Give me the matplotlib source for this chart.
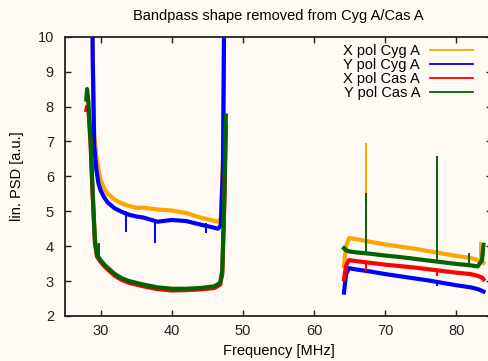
import numpy as np
import matplotlib
matplotlib.use("Agg")
import matplotlib.pyplot as plt
from matplotlib.lines import Line2D

plt.rcParams['font.family'] = ['Liberation Sans', 'DejaVu Sans']

# -----------------------------
# Datos
# -----------------------------

# banda baja, Cyg A
cyg_f1 = [28.7, 28.9, 29.1, 29.4, 29.7, 30.0, 30.5, 31.0, 32.0, 33.0, 34.0,
          35.0, 36.0, 38.0, 40.0, 42.0, 44.0, 45.5, 46.5, 46.9, 47.2, 47.5]
x_cyg1 = [14, 9.5, 7.2, 6.6, 6.2, 5.9, 5.65, 5.5, 5.33, 5.22, 5.15,
          5.1, 5.1, 5.05, 5.02, 4.95, 4.82, 4.75, 4.7, 4.8, 6.5, 14]
y_cyg1 = [14, 9.3, 6.9, 6.2, 5.8, 5.6, 5.4, 5.25, 5.08, 4.98, 4.9,
          4.85, 4.82, 4.7, 4.75, 4.72, 4.62, 4.55, 4.5, 4.6, 6.3, 14]

# banda baja, Cas A
cas_f1 = [28.0, 28.1, 28.3, 28.6, 28.9, 29.2, 29.5, 30.0, 30.5, 31.0, 32.0,
          33.0, 34.0, 36.0, 38.0, 40.0, 42.0, 44.0, 46.0, 46.8, 47.1, 47.4, 47.6]
x_cas1 = [7.9, 8.0, 7.9, 6.9, 5.4, 4.1, 3.7, 3.55, 3.43, 3.33, 3.15,
          3.03, 2.95, 2.85, 2.77, 2.73, 2.74, 2.76, 2.8, 2.9, 3.2, 5.3, 7.43]
y_cas1 = [8.2, 8.5, 8.1, 7.0, 5.5, 4.2, 3.75, 3.6, 3.48, 3.38, 3.2,
          3.08, 3.0, 2.9, 2.82, 2.78, 2.78, 2.8, 2.85, 2.95, 3.3, 5.5, 7.74]

# banda alta (las cuatro series)
f2 = [64.2, 64.5, 64.9, 66.0, 68.0, 70.0, 72.0, 74.0, 76.0, 78.0, 80.0,
      82.0, 83.0, 83.6, 83.8]
x_cyg2 = [3.42, 4.0, 4.23, 4.2, 4.12, 4.05, 3.99, 3.93, 3.86, 3.79, 3.72,
          3.66, 3.6, 3.55, 3.52]
y_cyg2 = [2.67, 3.2, 3.37, 3.33, 3.27, 3.2, 3.14, 3.08, 3.02, 2.95, 2.88,
          2.82, 2.77, 2.72, 2.7]
x_cas2 = [3.05, 3.45, 3.6, 3.57, 3.52, 3.47, 3.43, 3.39, 3.34, 3.29, 3.24,
          3.2, 3.15, 3.1, 3.05]
y_cas2 = [3.94, 3.88, 3.85, 3.82, 3.78, 3.73, 3.69, 3.64, 3.59, 3.54, 3.49,
          3.45, 3.42, 3.6, 4.04]

# picos y caidas (frecuencia, base, extremo) por serie
x_cyg_spk_f = [67.25, 83.3]
x_cyg_spk_b = [4.15, 3.55]
x_cyg_spk_t = [6.95, 4.13]
y_cyg_spk_f = [33.6, 37.6, 44.8, 77.25]
y_cyg_spk_b = [5.0, 4.76, 4.66, 3.0]
y_cyg_spk_t = [4.4, 4.1, 4.38, 2.85]
x_cas_spk_f = [67.25, 77.25]
x_cas_spk_b = [3.5, 3.33]
x_cas_spk_t = [3.3, 3.15]
y_cas_spk_f = [29.8, 67.25, 77.25, 81.8]
y_cas_spk_b = [3.62, 3.8, 3.58, 3.46]
y_cas_spk_t = [4.1, 5.52, 6.59, 3.8]

labels = ["X pol Cyg A", "Y pol Cyg A", "X pol Cas A", "Y pol Cas A"]
colores = ["#ffa500", "#0000ff", "#ff0000", "#006400"]

fondo = "#fffbf4"

# -----------------------------
# Figura
# -----------------------------

fig = plt.figure(figsize=(4.88, 3.61), dpi=100, facecolor=fondo)
ax = fig.add_axes([0.1332, 0.1247, 0.875, 0.7737])
ax.set_facecolor(fondo)


def unir(fa, va, fb, vb):
    # une las dos bandas con un hueco
    return list(fa) + [np.nan] + list(fb), list(va) + [np.nan] + list(vb)


series = [
    unir(cyg_f1, x_cyg1, f2, x_cyg2),
    unir(cyg_f1, y_cyg1, f2, y_cyg2),
    unir(cas_f1, x_cas1, f2, x_cas2),
    unir(cas_f1, y_cas1, f2, y_cas2),
]
picos = [
    (x_cyg_spk_f, x_cyg_spk_b, x_cyg_spk_t),
    (y_cyg_spk_f, y_cyg_spk_b, y_cyg_spk_t),
    (x_cas_spk_f, x_cas_spk_b, x_cas_spk_t),
    (y_cas_spk_f, y_cas_spk_b, y_cas_spk_t),
]

for (f, v), (pf, pb, pt), c in zip(series, picos, colores):
    ax.plot(f, v, color=c, lw=3.0, solid_joinstyle="round")
    ax.vlines(pf, pb, pt, color=c, lw=1.4)

ax.set_xlim(25, 85)
ax.set_ylim(2, 10)
ax.set_xticks([30, 40, 50, 60, 70, 80])
ax.set_yticks([2, 3, 4, 5, 6, 7, 8, 9, 10])

for s in ax.spines.values():
    s.set_linewidth(1.3)
    s.set_color("#222222")
ax.tick_params(direction="in", length=4.5, width=1.0, top=True, right=True,
               labelsize=10.5, colors="#222222")
ax.tick_params(axis="y", pad=8)
ax.tick_params(axis="x", pad=6)

ax.set_title("Bandpass shape removed from Cyg A/Cas A", fontsize=10.5, pad=12)
ax.set_xlabel("Frequency [MHz]", fontsize=10.5, labelpad=4)
ax.set_ylabel("lin. PSD [a.u.]", fontsize=10.5, labelpad=10)

handles = [Line2D([], [], color=c, lw=1.3) for c in colores]
ax.legend(handles, labels, loc="upper right", bbox_to_anchor=(0.968, 0.993),
          frameon=False, markerfirst=False, fontsize=10.5, handlelength=2.9,
          handletextpad=0.7, labelspacing=0.0, borderaxespad=0)

fig.savefig("out.png", dpi=100, facecolor=fondo)
